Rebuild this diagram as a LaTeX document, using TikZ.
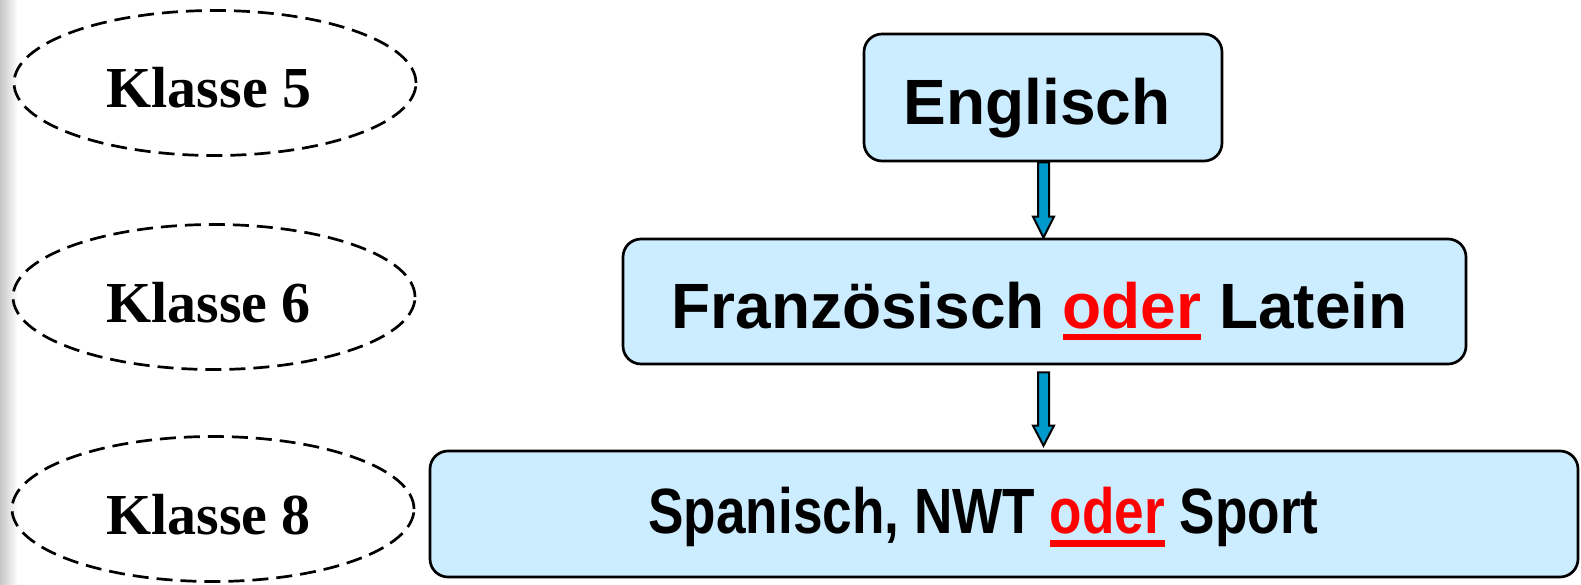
\documentclass[tikz,border=0pt]{standalone}
\usepackage{fontspec}
\setmainfont{Liberation Sans}
\newfontfamily\klfont{Liberation Serif}
\newfontfamily\narrowsans[FakeStretch=0.83]{Liberation Sans}
\usetikzlibrary{shapes.geometric}
\definecolor{boxblue}{RGB}{204,236,255}
\definecolor{arrowblue}{RGB}{0,153,204}
\definecolor{oderred}{RGB}{255,0,0}
\newcommand\odr[2]{{\color{oderred}%
  \setbox0=\hbox{oder}%
  \rlap{\rule[\dimexpr-#1-#2\relax]{\wd0}{#2}}\box0}}
\begin{document}
\begin{tikzpicture}[x=1pt,y=-1pt,
  klasse/.style={ellipse, draw, dash pattern=on 16pt off 8pt, line width=2.7pt,
    minimum width=402pt, minimum height=145pt, inner sep=0pt},
  fach/.style={rectangle, draw, line width=2.7pt, fill=boxblue, rounded corners=18pt, inner sep=0pt},
  ktext/.style={anchor=base, inner sep=0pt, font=\klfont\bfseries\fontsize{58}{60}\selectfont},
  ftext/.style={anchor=base, inner sep=0pt, font=\bfseries\fontsize{64}{70}\selectfont},
  stext/.style={anchor=base, inner sep=0pt, font=\narrowsans\bfseries\fontsize{64}{70}\selectfont},
  blk/.style={draw, line width=2pt, fill=arrowblue, line join=miter}]
\useasboundingbox (0,0) rectangle (1581,584);
\shade[left color=black!22, right color=white] (0,0) rectangle (18,584);

% Klassen
\node[klasse] (k5) at (215,83) {};
\node[klasse] (k6) at (214,297) {};
\node[klasse] (k8) at (213,509) {};
\node[ktext] (k5t) at (209,107) {Klasse 5};
\node[ktext] (k6t) at (208.5,322) {Klasse 6};
\node[ktext] (k8t) at (208.5,534) {Klasse 8};

% Faecher
\node[fach, minimum width=358pt, minimum height=127pt] (eng) at (1043,97.5) {};
\node[fach, minimum width=843pt, minimum height=125pt] (fr) at (1044.5,301.5) {};
\node[fach, minimum width=1148pt, minimum height=126pt] (sp) at (1004,514) {};
\node[ftext] (engt) at (1037,124) {Englisch};
\node[ftext] (frt) at (1039.5,328) {Französisch \odr{6pt}{6pt}\ Latein};
\node[stext] (spt) at (983.5,533) {Spanisch, NWT \odr{7pt}{6.5pt}\ Sport};

% Pfeile
\coordinate (ax) at (1043.5,0);
\coordinate (t1) at (ax |- eng.south);
\coordinate (h1) at (ax |- fr.north);
\coordinate (t2) at ([yshift=-7pt]ax |- fr.south);
\coordinate (h2) at ([yshift=4pt]ax |- sp.north);
\draw[blk] ([xshift=-5.5pt]t1) -- ([xshift=5.5pt]t1) -- ([xshift=5.5pt,yshift=21pt]h1)
  -- ([xshift=10.5pt,yshift=21pt]h1) -- (h1) -- ([xshift=-10.5pt,yshift=21pt]h1)
  -- ([xshift=-5.5pt,yshift=21pt]h1) -- cycle;
\draw[blk] ([xshift=-5.5pt]t2) -- ([xshift=5.5pt]t2) -- ([xshift=5.5pt,yshift=20pt]h2)
  -- ([xshift=10.5pt,yshift=20pt]h2) -- (h2) -- ([xshift=-10.5pt,yshift=20pt]h2)
  -- ([xshift=-5.5pt,yshift=20pt]h2) -- cycle;
\end{tikzpicture}
\end{document}
